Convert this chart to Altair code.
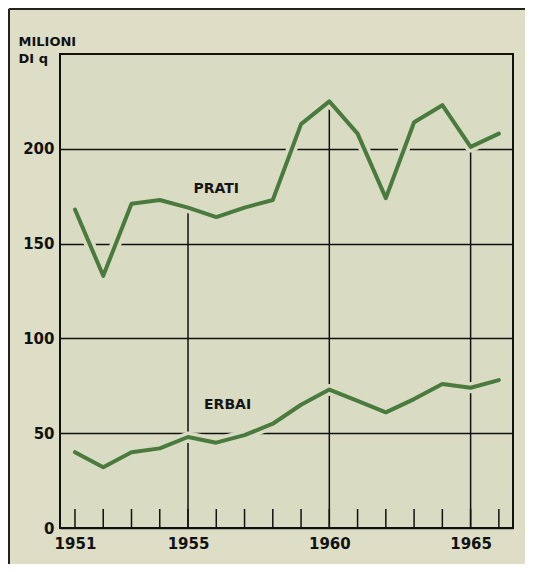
import altair as alt
import pandas as pd

years = list(range(1951, 1967))
prati = [168, 133, 171, 173, 169, 164, 169, 173, 213, 225, 208, 174, 214, 223, 201, 208]
erbai = [40, 32, 40, 42, 48, 45, 49, 55, 65, 73, 67, 61, 68, 76, 74, 78]
series_names = ["PRATI", "ERBAI"]
label_years = [1956.0, 1956.4]
label_values = [179, 65]
axis_years = [1951, 1955, 1960, 1965]
y_ticks = [0, 50, 100, 150, 200]
long_rule_years = [1955, 1960, 1965]

W, H = 453, 474
BG = "#dedec6"
PLOT_BG = "#d9dbc3"
GREEN = "#4a7b3e"
FONT = "DejaVu Sans"

rows = []
for name, vals in zip(series_names, [prati, erbai]):
    for y, v in zip(years, vals):
        rows.append({"year": y, "value": v, "series": name})
df = pd.DataFrame(rows)

ticks_df = pd.DataFrame({"year": years, "value": [0] * len(years)})
long_df = pd.DataFrame({
    "year": long_rule_years,
    "value": [0] * len(long_rule_years),
    "top": [prati[years.index(y)] for y in long_rule_years],
})
labels_df = pd.DataFrame({"year": label_years, "value": label_values, "label": series_names})

xscale = alt.Scale(domain=[1950.47, 1966.5], nice=False, zero=False)
yscale = alt.Scale(domain=[0, 250], nice=False)

x_axis = alt.Axis(values=axis_years, format="d", labelFont=FONT, labelFontSize=15,
                  labelFontWeight="bold", labelColor="#111", ticks=False, domain=False,
                  grid=False, labelPadding=8, title=None, labelFlush=False)
y_axis = alt.Axis(values=y_ticks, grid=True, gridColor="#111", gridWidth=1.5, gridOpacity=1,
                  ticks=False, domain=False, labelFont=FONT, labelFontSize=15,
                  labelFontWeight="bold", labelColor="#111", labelPadding=6,
                  title=["MILIONI", "DI q"], titleAngle=0, titleX=-42, titleY=-9,
                  titleAlign="left", titleBaseline="alphabetic", titleFont=FONT,
                  titleFontSize=13, titleFontWeight="bold", titleColor="#111",
                  titleLineHeight=17, labelFlush=False)

X = alt.X("year:Q", scale=xscale, axis=x_axis)
Y = alt.Y("value:Q", scale=yscale, axis=y_axis)

small_ticks = alt.Chart(ticks_df).mark_rule(color="#111", strokeWidth=1.5).encode(
    x=X,
    y=Y,
    y2=alt.value(H - 19),
)

long_rules = alt.Chart(long_df).mark_rule(color="#111", strokeWidth=1.5).encode(
    x=X,
    y=Y,
    y2="top:Q",
)

halo = alt.Chart(df).mark_line(color=PLOT_BG, strokeWidth=11, strokeJoin="round").encode(
    x=X, y=Y, detail="series:N",
)

lines = alt.Chart(df).mark_line(color=GREEN, strokeWidth=4, strokeJoin="round",
                                strokeCap="round").encode(
    x=X, y=Y, detail="series:N",
)

labels = alt.Chart(labels_df).mark_text(font=FONT, fontSize=14, fontWeight="bold",
                                        color="#151515").encode(
    x=X, y=Y, text="label:N",
)

frame_left = alt.Chart(pd.DataFrame({"k": [0]})).mark_rule(color="#222", strokeWidth=2).encode(
    x=alt.value(-51), y=alt.value(-45), y2=alt.value(H + 60),
)
frame_top = alt.Chart(pd.DataFrame({"k": [0]})).mark_rule(color="#222", strokeWidth=2).encode(
    x=alt.value(-51), x2=alt.value(W + 40), y=alt.value(-45),
)

chart = alt.layer(small_ticks, long_rules, halo, lines, labels, frame_left, frame_top).properties(
    width=W, height=H,
    autosize=alt.AutoSizeParams(type="none"),
    padding={"left": 52, "top": 46, "right": 12, "bottom": 36},
    background=BG,
).configure_view(
    stroke="#111", strokeWidth=2, fill=PLOT_BG,
)

chart.save("out.html", embed_options={"renderer": "svg", "actions": False})
